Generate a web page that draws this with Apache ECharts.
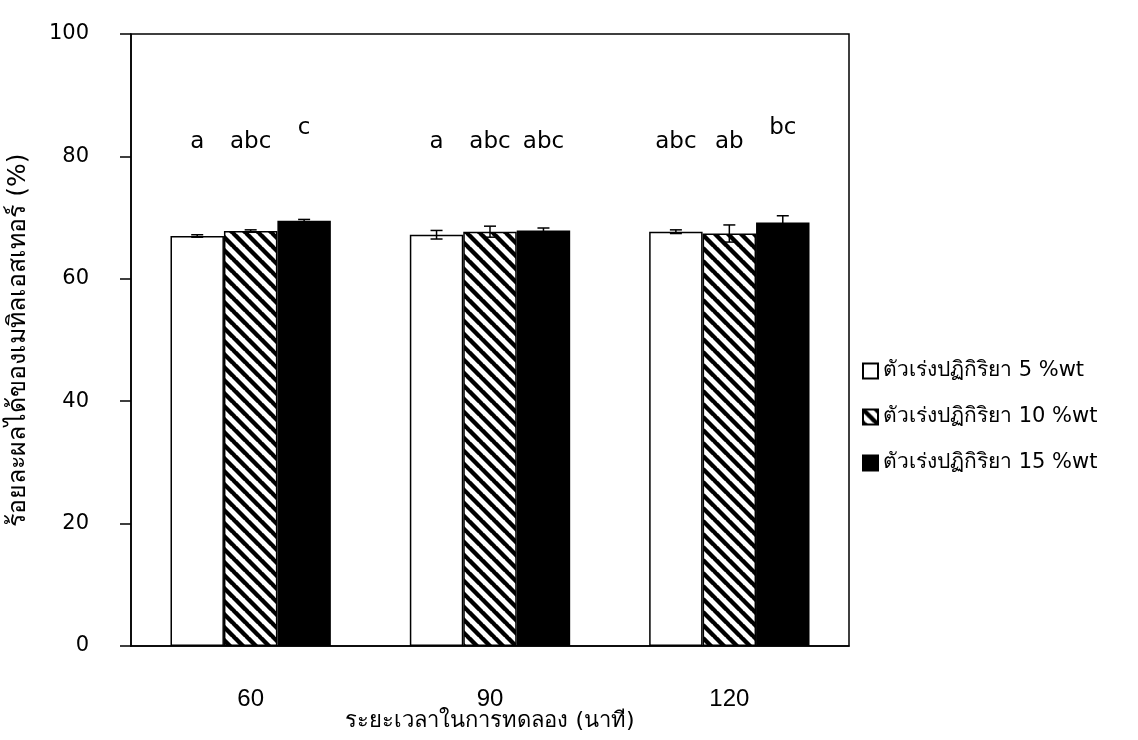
<!DOCTYPE html>
<html>
<head>
<meta charset="utf-8">
<script src="https://cdn.jsdelivr.net/npm/echarts@6/dist/echarts.min.js"></script>
<style>
html,body{margin:0;padding:0;background:#fff;}
#chart{width:1138px;height:740px;}
</style>
</head>
<body>
<div id="chart"></div>
<script>
// ---- data ----
var categories = ['60', '90', '120'];
var seriesNames = ['ตัวเร่งปฏิกิริยา 5 %wt', 'ตัวเร่งปฏิกิริยา 10 %wt', 'ตัวเร่งปฏิกิริยา 15 %wt'];
var values5  = [67.0, 67.2, 67.7];
var values10 = [67.8, 67.7, 67.4];
var values15 = [69.5, 67.9, 69.2];
var err5  = [0.2, 0.7, 0.3];
var err10 = [0.2, 0.9, 1.4];
var err15 = [0.2, 0.4, 1.1];
var letters5  = ['a', 'a', 'abc'];
var letters10 = ['abc', 'abc', 'ab'];
var letters15 = ['c', 'abc', 'bc'];
var yTicks = [0, 20, 40, 60, 80, 100];
var yAxisTitle = 'ร้อยละผลได้ของเมทิลเอสเทอร์ (%)';
var xAxisTitle = 'ระยะเวลาในการทดลอง (นาที)';

// ---- hatch pattern ----
function makeHatch() {
  var s = 13;
  var c = document.createElement('canvas');
  c.width = s; c.height = s;
  var ctx = c.getContext('2d');
  ctx.fillStyle = '#fff';
  ctx.fillRect(0, 0, s, s);
  ctx.strokeStyle = '#000';
  ctx.lineWidth = 4.4;
  for (var k = -1; k <= 1; k++) {
    ctx.beginPath();
    ctx.moveTo(k * s - 1, -1);
    ctx.lineTo(k * s + s + 1, s + 1);
    ctx.stroke();
  }
  return c;
}
var hatch = makeHatch();

var fills = ['#ffffff', {image: hatch, repeat: 'repeat'}, '#000000'];
var valueSets = [values5, values10, values15];
var errSets = [err5, err10, err15];
var letterSets = [letters5, letters10, letters15];

var GAP = 0.33;
var font = '"DejaVu Sans", "Noto Sans", sans-serif';

var series = [];
for (var i = 0; i < 3; i++) {
  series.push({
    name: seriesNames[i],
    type: 'bar',
    barGap: '0%',
    barCategoryGap: (GAP * 100) + '%',
    data: valueSets[i],
    itemStyle: {color: fills[i], borderColor: '#000', borderWidth: 1.5},
    emphasis: {disabled: true},
    silent: true
  });
}

var errData = [];
var letterData = [];
for (var s = 0; s < 3; s++) {
  for (var c = 0; c < categories.length; c++) {
    errData.push([c, s, valueSets[s][c], errSets[s][c]]);
    letterData.push([c, s, letterSets[s][c]]);
  }
}
function barOffset(api, s) {
  var band = api.size([1, 0])[0];
  var bw = band * (1 - GAP) / 3;
  return (s - 1) * bw;
}
series.push({
  type: 'custom',
  silent: true,
  z: 10,
  data: errData,
  renderItem: function (params, api) {
    var c = api.value(0), s = api.value(1), v = api.value(2), e = api.value(3);
    var x = api.coord([c, v])[0] + barOffset(api, s);
    var yTop = api.coord([c, v + e])[1];
    var yBot = api.coord([c, v - e])[1];
    var cap = 6;
    return {
      type: 'group',
      children: [
        {type: 'line', shape: {x1: x, y1: yTop, x2: x, y2: yBot}, style: {stroke: '#000', lineWidth: 1.5}},
        {type: 'line', shape: {x1: x - cap, y1: yTop, x2: x + cap, y2: yTop}, style: {stroke: '#000', lineWidth: 1.5}},
        {type: 'line', shape: {x1: x - cap, y1: yBot, x2: x + cap, y2: yBot}, style: {stroke: '#000', lineWidth: 1.5}}
      ]
    };
  }
});
series.push({
  type: 'custom',
  silent: true,
  z: 10,
  data: letterData,
  renderItem: function (params, api) {
    var c = api.value(0), s = api.value(1);
    var txt = letterData[params.dataIndex][2];
    var x = api.coord([c, 0])[0] + barOffset(api, s);
    var lift = (txt === 'c' || txt === 'bc') ? 2.3 : 0;
    var y = api.coord([c, 82.4 + lift])[1];
    return {
      type: 'text',
      style: {text: txt, x: x, y: y, align: 'center', verticalAlign: 'middle',
              font: '23px ' + font, fill: '#000'}
    };
  }
});

var chart = echarts.init(document.getElementById('chart'));
chart.setOption({
  animation: false,
  backgroundColor: '#fff',
  grid: {left: 131, right: 289, top: 34, bottom: 94, outerBoundsMode: 'none', containLabel: false,
         show: true, borderColor: '#000', borderWidth: 1.5, backgroundColor: 'transparent'},
  legend: {
    orient: 'vertical',
    left: 857,
    top: 355,
    icon: 'rect',
    itemWidth: 15,
    itemHeight: 15,
    itemGap: 24,
    selectedMode: false,
    data: seriesNames,
    textStyle: {fontSize: 21, color: '#000', fontFamily: font, lineHeight: 22}
  },
  xAxis: {
    type: 'category',
    data: categories,
    axisLine: {lineStyle: {color: '#000', width: 1.5}},
    axisTick: {show: false},
    axisLabel: {fontSize: 24, color: '#000', margin: 41, fontFamily: '"Liberation Sans Narrow", "Liberation Sans", sans-serif'},
    name: xAxisTitle,
    nameLocation: 'middle',
    nameGap: 64,
    nameMoveOverlap: false,
    nameTextStyle: {fontSize: 22, color: '#000', fontFamily: font}
  },
  yAxis: {
    type: 'value',
    min: yTicks[0],
    max: yTicks[yTicks.length - 1],
    interval: 20,
    axisLine: {show: true, lineStyle: {color: '#000', width: 1.5}},
    axisTick: {show: true, inside: false, length: 11, lineStyle: {color: '#000', width: 1.5}},
    splitLine: {show: false},
    axisLabel: {fontSize: 21, color: '#000', margin: 42, fontFamily: font},
    name: yAxisTitle,
    nameLocation: 'middle',
    nameGap: 100,
    nameMoveOverlap: false,
    nameTextStyle: {fontSize: 25, color: '#000', fontFamily: font}
  },
  series: series
});
</script>
</body>
</html>
